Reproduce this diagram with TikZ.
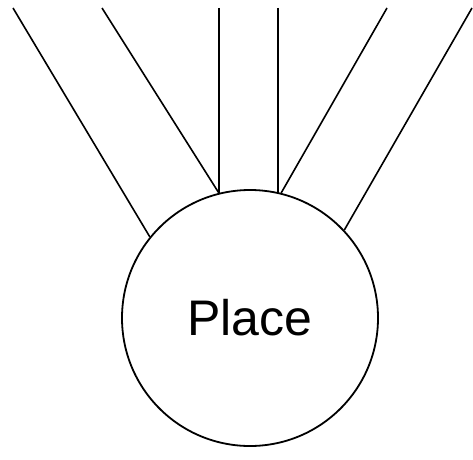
\documentclass[tikz,border=0pt]{standalone}
\usepackage{fontspec}
\setmainfont{Liberation Sans}
\usetikzlibrary{positioning,calc}
\tikzset{
  pnplace/.style={
    circle, draw=black, fill=white, line width=1.8pt,
    minimum size=256pt, inner sep=0pt, font=\fontsize{50}{60}\selectfont
  },
  pnarc/.style={line width=1.6pt}
}

\begin{document}
\begin{tikzpicture}[x=1pt,y=1pt]
  \useasboundingbox (0,0) rectangle (473,459);
  \node[pnplace] (P) at (250,141) {Place};
  % free ends above the picture edge
  \coordinate (A1) at (13,451);
  \coordinate (A2) at (102,451);
  \coordinate (A3) at (219,451);
  \coordinate (A4) at (278,451);
  \coordinate (A5) at (387,451);
  \coordinate (A6) at (472,451);
  \draw[pnarc] (A1) -- (P.141);
  \draw[pnarc] (A2) -- (P.104);
  \draw[pnarc] (A3) -- (A3 |- P.104);
  \draw[pnarc] (A4) -- (A4 |- P.76);
  \draw[pnarc] (A5) -- (P.76);
  \draw[pnarc] (A6) -- (P.43);
\end{tikzpicture}
\end{document}
